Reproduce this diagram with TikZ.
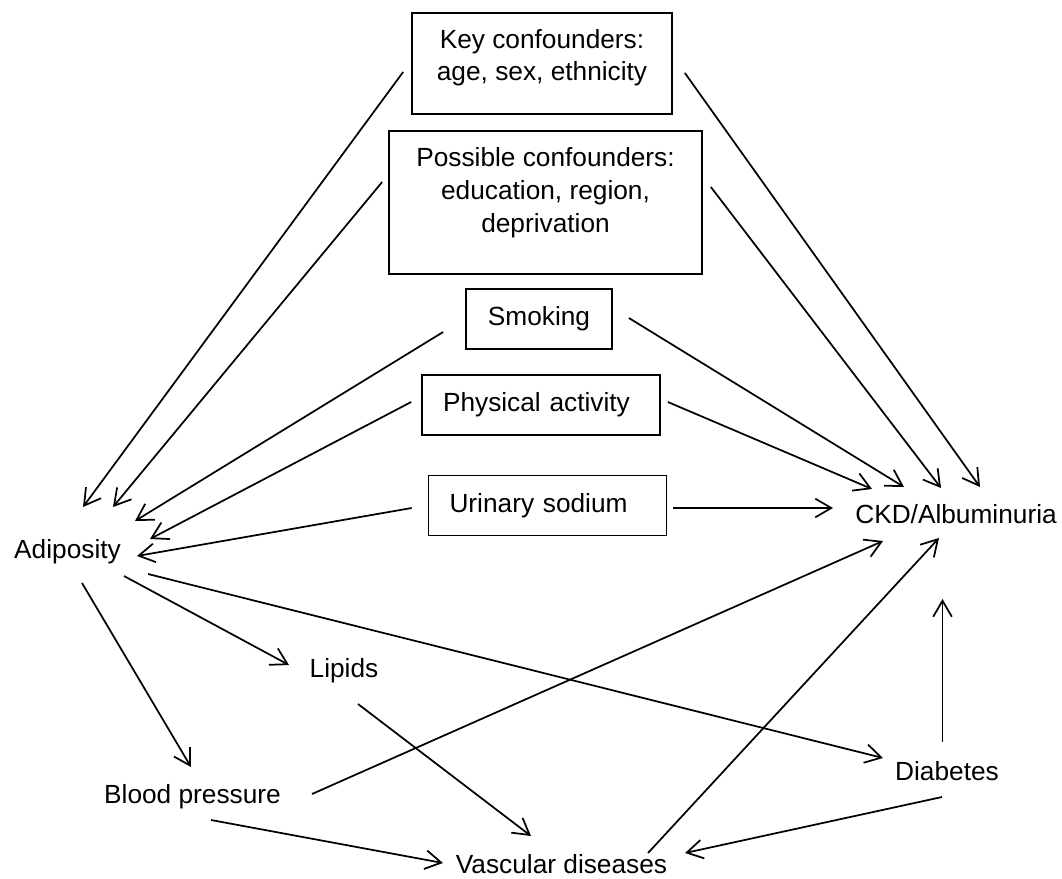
\documentclass[tikz,border=0pt]{standalone}
\usepackage{fontspec}
\setmainfont{Liberation Sans}
\usetikzlibrary{arrows.meta}
\usetikzlibrary{calc}

\tikzset{
  txt/.style={font=\fontsize{19.7}{24.4}\selectfont},
  lbl/.style={txt, anchor=base, inner sep=0pt},
  bx/.style={txt, draw, line width=1.3pt, align=center, inner sep=0pt},
  lbx/.style={bx, align=left, text width=147pt, inner xsep=15.75pt, minimum height=45pt},
  arr/.style={-{Straight Barb[length=12pt,width=14pt]}, line width=1.3pt},
}

\begin{document}
\begin{tikzpicture}[x=0.75pt,y=0.75pt,yscale=-1,xscale=1]
\path[use as bounding box] (0,0) rectangle (1062,878);

% Boxes
\node[bx, minimum width=195pt, minimum height=75.75pt] (key) at (542,63.5) {Key confounders:\\ age, sex, ethnicity\\[-11.4pt]\mbox{}};
\node[bx, minimum width=234.75pt, minimum height=107.25pt] (poss) at (545.5,202.5) {Possible confounders:\\ education, region,\\ deprivation\\[-5.6pt]\mbox{}};
\node[bx, minimum width=109.5pt, minimum height=45pt] (smoke) at (539,319) {Smoking};
\node[lbx] (phys) at (541,405) {Physical activity};
\node[lbx] (urine) at (547.5,505.5) {Urinary sodium};

% Text Node
\node[lbl] (adip) at (67.5,558) {Adiposity};
\node[lbl] (ckd) at (956,523) {CKD/Albuminuria};
\node[lbl] (lip) at (344,677) {Lipids};
\node[lbl] (bp) at (192.5,803) {Blood pressure};
\node[lbl] (diab) at (947,780) {Diabetes};
\node[lbl] (vasc) at (561.5,873) {Vascular diseases};

% into Adiposity
\draw[arr] ($(key.west)+(-8,8.5)$) -- ($(adip.base)+(15.5,-51)$);
\draw[arr] ($(poss.west)+(-6,-20.5)$) -- ($(adip.base)+(45.5,-51)$);
\draw[arr] ($(smoke.west)+(-22,13)$) -- ($(adip.base)+(67.5,-37)$);
\draw[arr] ($(phys.west)+(-10,-3)$) -- ($(adip.base)+(82.5,-19)$);
\draw[arr] ($(urine.west)+(-16,2.5)$) -- ($(adip.base)+(69.5,-2)$);

% into CKD/Albuminuria
\draw[arr] ($(key.east)+(12,9.5)$) -- ($(ckd.base)+(24,-36)$);
\draw[arr] ($(poss.east)+(8,-15.5)$) -- ($(ckd.base)+(-15,-35)$);
\draw[arr] ($(smoke.east)+(16,-1)$) -- ($(ckd.base)+(-52,-36)$);
\draw[arr] ($(phys.east)+(7,-3)$) -- ($(ckd.base)+(-84,-34)$);
\draw[arr] ($(urine.east)+(6,2.5)$) -- ($(ckd.base)+(-123,-15)$);
\draw[arr] ($(bp.base)+(119.5,-9)$) -- ($(ckd.base)+(-73,18)$);
\draw[arr] ($(vasc.base)+(86.5,-20)$) -- ($(ckd.base)+(-17,15)$);
\draw[arr] ($(diab.base)+(-4.5,-38)$) -- ($(ckd.base)+(-13.5,76)$);

% from Adiposity
\draw[arr] ($(adip.base)+(14.5,25)$) -- ($(bp.base)+(-1.5,-36)$);
\draw[arr] ($(adip.base)+(56.5,18)$) -- ($(lip.base)+(-55,-12)$);
\draw[arr] ($(adip.base)+(80.5,16)$) -- ($(diab.base)+(-64,-22)$);

% into Vascular diseases
\draw[arr] ($(lip.base)+(14,27)$) -- ($(vasc.base)+(-30.5,-37)$);
\draw[arr] ($(bp.base)+(18.5,17)$) -- ($(vasc.base)+(-118.5,-10)$);
\draw[arr] ($(diab.base)+(-5,17)$) -- ($(vasc.base)+(123.5,-20)$);
\end{tikzpicture}
\end{document}
